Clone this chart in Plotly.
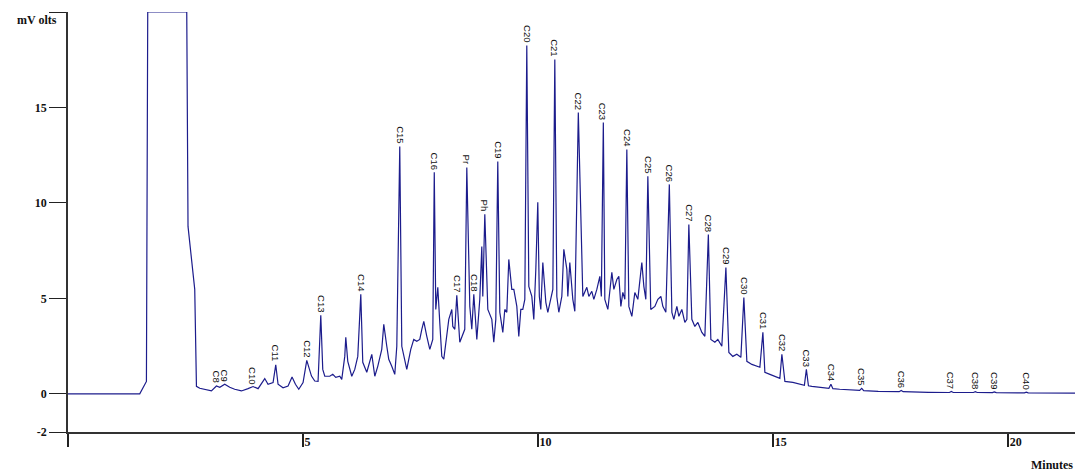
import plotly.graph_objects as go

# Retention time (minutes) and detector signal (mV)
time_min = [0, 1.526, 1.668, 1.696, 2.526, 2.532, 2.553, 2.696, 2.732, 2.802,
            3.051, 3.157, 3.228, 3.334, 3.440, 3.546, 3.689, 3.830, 3.936, 4.043,
            4.185, 4.255, 4.362, 4.419, 4.468, 4.574, 4.681, 4.766, 4.838, 4.909,
            5.000, 5.079, 5.121, 5.179, 5.249, 5.319, 5.377, 5.419, 5.462, 5.568,
            5.632, 5.696, 5.781, 5.823, 5.887, 5.909, 5.951, 6.036, 6.100, 6.164,
            6.228, 6.270, 6.355, 6.462, 6.526, 6.589, 6.674, 6.717, 6.781, 6.823,
            6.887, 6.951, 6.994, 7.057, 7.100, 7.164, 7.206, 7.291, 7.355, 7.419,
            7.483, 7.526, 7.568, 7.632, 7.696, 7.759, 7.791, 7.823, 7.866, 7.908,
            7.951, 7.993, 8.057, 8.100, 8.164, 8.185, 8.228, 8.270, 8.334, 8.398,
            8.440, 8.483, 8.547, 8.589, 8.632, 8.696, 8.759, 8.802, 8.823, 8.866,
            8.930, 9.015, 9.057, 9.100, 9.142, 9.185, 9.249, 9.291, 9.334, 9.376,
            9.440, 9.483, 9.547, 9.589, 9.632, 9.674, 9.717, 9.759, 9.802, 9.866,
            9.908, 9.951, 9.993, 10.026, 10.057, 10.100, 10.164, 10.206, 10.249, 10.313,
            10.355, 10.398, 10.440, 10.504, 10.547, 10.611, 10.632, 10.674, 10.738, 10.781,
            10.855, 10.930, 10.951, 11.036, 11.079, 11.142, 11.185, 11.249, 11.313, 11.345,
            11.387, 11.419, 11.483, 11.568, 11.611, 11.674, 11.717, 11.760, 11.802, 11.845,
            11.887, 11.930, 11.994, 12.057, 12.121, 12.206, 12.249, 12.291, 12.334, 12.396,
            12.483, 12.547, 12.611, 12.653, 12.717, 12.791, 12.845, 12.887, 12.951, 12.994,
            13.057, 13.121, 13.164, 13.206, 13.270, 13.334, 13.398, 13.483, 13.547, 13.621,
            13.674, 13.760, 13.823, 13.908, 13.994, 14.057, 14.142, 14.227, 14.313, 14.376,
            14.440, 14.547, 14.653, 14.717, 14.781, 14.823, 14.930, 15.079, 15.142, 15.185,
            15.249, 15.419, 15.611, 15.664, 15.706, 15.750, 15.823, 16.057, 16.185, 16.228,
            16.270, 16.415, 16.840, 16.883, 16.925, 17.234, 17.680, 17.723, 17.765, 18.300,
            18.750, 18.789, 18.830, 19.260, 19.300, 19.340, 19.665, 19.704, 19.745, 20.345,
            20.385, 20.425, 21.42]

signal_mv = [0, 0, 0.65, 20, 20, 15.4, 8.77, 5.47, 0.39, 0.29,
             0.15, 0.41, 0.34, 0.50, 0.34, 0.24, 0.15, 0.27, 0.38, 0.27,
             0.80, 0.50, 0.59, 1.52, 0.50, 0.32, 0.41, 0.88, 0.50, 0.24,
             0.59, 1.75, 1.44, 0.93, 0.67, 0.65, 4.11, 1.28, 0.92, 0.92,
             1.02, 0.86, 0.92, 0.76, 1.96, 2.96, 1.70, 0.92, 1.28, 1.96,
             5.21, 1.65, 1.13, 2.07, 0.92, 1.44, 2.33, 3.64, 2.49, 1.81,
             1.44, 1.02, 2.49, 12.96, 2.49, 1.81, 1.28, 2.33, 2.85, 2.75,
             2.85, 3.38, 3.80, 3.01, 2.33, 2.85, 11.60, 4.42, 5.58, 3.74,
             1.96, 1.81, 3.01, 3.90, 4.42, 3.53, 3.38, 5.16, 2.70, 3.11,
             3.38, 11.86, 4.58, 3.38, 5.21, 2.85, 4.95, 7.72, 5.10, 9.40,
             4.42, 3.90, 2.70, 3.90, 12.17, 4.27, 3.22, 4.42, 4.27, 7.04,
             5.47, 5.47, 4.58, 3.01, 4.42, 4.42, 4.95, 18.25, 5.63, 5.10,
             3.90, 6.52, 10.03, 5.10, 4.42, 6.88, 4.79, 4.27, 4.79, 5.47,
             17.51, 5.10, 4.27, 5.10, 7.57, 6.52, 5.10, 6.88, 4.95, 4.32,
             14.74, 5.84, 5.10, 5.58, 5.10, 5.37, 4.95, 5.47, 6.15, 5.10,
             14.21, 4.95, 4.42, 6.36, 5.47, 5.99, 6.15, 4.58, 5.31, 4.95,
             12.80, 4.58, 4.06, 5.31, 4.95, 6.88, 5.63, 4.95, 11.39, 4.42,
             4.58, 4.95, 5.10, 4.58, 4.27, 10.97, 4.27, 3.90, 4.58, 4.06,
             4.42, 3.74, 3.90, 8.87, 3.90, 3.53, 3.74, 3.22, 3.01, 8.35,
             2.85, 2.70, 2.85, 2.49, 6.62, 2.17, 1.96, 2.07, 1.91, 5.05,
             1.70, 1.54, 1.44, 1.39, 3.22, 1.13, 1.02, 0.86, 0.81, 2.07,
             0.65, 0.60, 0.50, 0.45, 1.28, 0.42, 0.39, 0.34, 0.29, 0.50,
             0.27, 0.24, 0.18, 0.29, 0.17, 0.13, 0.11, 0.18, 0.11, 0.08,
             0.07, 0.12, 0.07, 0.07, 0.11, 0.07, 0.06, 0.10, 0.06, 0.05,
             0.09, 0.05, 0.04]

# Peak identifications and their retention times
peak_names = ["C8", "C9", "C10", "C11", "C12", "C13", "C14", "C15", "C16", "C17",
              "Pr", "C18", "Ph", "C19", "C20", "C21", "C22", "C23", "C24", "C25",
              "C26", "C27", "C28", "C29", "C30", "C31", "C32", "C33", "C34", "C35",
              "C36", "C37", "C38", "C39", "C40"]
peak_times = [3.157, 3.334, 3.936, 4.419, 5.079, 5.377, 6.228, 7.057, 7.791, 8.270,
              8.483, 8.632, 8.866, 9.142, 9.759, 10.355, 10.855, 11.387, 11.887, 12.334,
              12.791, 13.206, 13.621, 13.994, 14.376, 14.781, 15.185, 15.706, 16.228, 16.883,
              17.723, 18.789, 19.300, 19.704, 20.385]

y_ticks = [-2, 0, 5, 10, 15, 20]
y_ticktext = ["-2", "0", "5", "10", "15", ""]
x_ticks = [0, 5, 10, 15, 20]
x_ticktext = ["", "5", "10", "15", "20"]

LINE = "#1c1c8c"
SERIF_BOLD = dict(family="Liberation Serif", size=12, color="#111111")

fig = go.Figure()
fig.add_trace(go.Scatter(x=time_min, y=signal_mv, mode="lines",
                         line=dict(color=LINE, width=1.2), hoverinfo="skip",
                         showlegend=False))

def peak_height(t):
    i = min(range(len(time_min)), key=lambda k: abs(time_min[k] - t))
    return signal_mv[i]

annotations = []
for name, t in zip(peak_names, peak_times):
    annotations.append(dict(x=t, y=peak_height(t), xref="x", yref="y",
                            text=name, showarrow=False, textangle=90,
                            xanchor="center", yanchor="bottom", yshift=1,
                            font=dict(family="Liberation Sans", size=9.5, color="#111111")))

annotations.append(dict(xref="paper", yref="paper", x=-0.009, y=0.981,
                        text="<b>mV olts</b>", showarrow=False,
                        xanchor="right", yanchor="middle", font=SERIF_BOLD))
annotations.append(dict(xref="paper", yref="paper", x=1.0, y=-0.078,
                        text="<b>Minutes</b>", showarrow=False,
                        xanchor="right", yanchor="middle", font=SERIF_BOLD))

fig.update_layout(
    width=1075, height=473,
    margin=dict(l=68, r=0, t=12, b=41),
    paper_bgcolor="white", plot_bgcolor="white",
    annotations=annotations,
    xaxis=dict(range=[0, 21.42], showgrid=False, zeroline=False, automargin=False,
               showline=True, linecolor="#333333", linewidth=1.5,
               tickmode="array", tickvals=x_ticks, ticktext=x_ticktext,
               ticks="outside", ticklen=13, tickcolor="#222222", tickwidth=1.5,
               ticklabelposition="outside right", ticklabelstandoff=-2,
               tickfont=dict(family="Liberation Serif", size=12, color="#111111", weight="bold")),
    yaxis=dict(range=[-2, 20], showgrid=False, zeroline=False, automargin=False,
               showline=True, linecolor="#333333", linewidth=1.5,
               tickmode="array", tickvals=y_ticks, ticktext=y_ticktext,
               ticks="outside", ticklen=17, tickcolor="#222222", tickwidth=1.2,
               tickfont=dict(family="Liberation Serif", size=12, color="#111111", weight="bold")),
)

fig.write_html("out.html", config={"displayModeBar": False},
               post_script="document.body.style.margin='0';document.body.style.overflow='hidden';")
